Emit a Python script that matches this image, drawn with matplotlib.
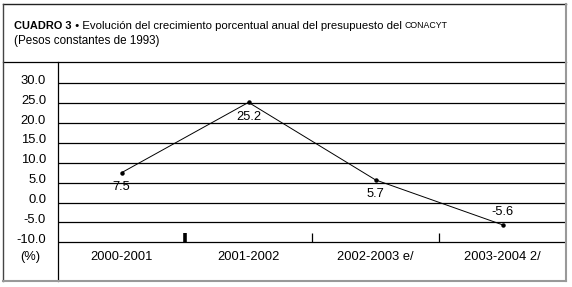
import matplotlib
matplotlib.use("Agg")
import matplotlib.pyplot as plt
from matplotlib.lines import Line2D
from matplotlib.transforms import ScaledTranslation, blended_transform_factory

plt.rcParams['font.family'] = ['Liberation Sans', 'DejaVu Sans']

# ---- data ----
categories = ["2000-2001", "2001-2002", "2002-2003 e/", "2003-2004 2/"]
values = [7.5, 25.2, 5.7, -5.6]
value_labels = ["7.5", "25.2", "5.7", "-5.6"]
yticks = [30.0, 25.0, 20.0, 15.0, 10.0, 5.0, 0.0, -5.0, -10.0]
ytick_labels = ["30.0", "25.0", "20.0", "15.0", "10.0", "5.0", "0.0", "-5.0", "-10.0"]
unit_label = "(%)"
title_bold = "CUADRO 3"
title_main = " \u2022 Evoluci\u00f3n del crecimiento porcentual anual del presupuesto del "
title_small = "CONACYT"
subtitle = "(Pesos constantes de 1993)"

W, H = 572, 287
fig = plt.figure(figsize=(W / 100, H / 100), dpi=100)
fig.patch.set_facecolor("white")

def fx(px):
    return px / W

def fy(py):
    return 1 - py / H

# axes region (table body)
ax = fig.add_axes([fx(58), fy(281), fx(566) - fx(58), fy(62) - fy(281)])
ax.set_xlim(-0.5, len(categories) - 0.5)
ax.set_ylim(-19.74, 35.36)
for s in ax.spines.values():
    s.set_visible(False)
ax.set_facecolor("none")

# horizontal rules at each tick
for t in yticks:
    ax.axhline(t, color="black", lw=0.9, zorder=1)

# ticks at category boundaries
xs = list(range(len(categories)))
bounds = [x + 0.5 for x in xs[:-1]]
ax.vlines(bounds, min(yticks), min(yticks) + 2.3, color="black",
          lw=[2.6, 0.9, 0.9], zorder=2)

# y tick labels
ax.set_yticks(yticks)
ax.set_yticklabels(ytick_labels, fontsize=9.4)
ax.tick_params(axis="y", length=0, pad=8.6)
off = ScaledTranslation(0, 4 / 100, fig.dpi_scale_trans)
for lab in ax.get_yticklabels():
    lab.set_transform(lab.get_transform() + off)
ax.set_xticks([])

# category labels
tr = blended_transform_factory(ax.transData, ax.transAxes)
for x, c in zip(xs, categories):
    ax.text(x, 0.1095, c, transform=tr, ha="center", va="center", fontsize=9.3)
fig.text(fx(30), fy(257), unit_label, ha="center", va="center", fontsize=9.3)

# line
ax.plot(xs, values, color="black", lw=0.7, marker="o", markersize=2.2, zorder=3)
for x, v, lab in zip(xs, values, value_labels):
    dy = -10.5 if v > 0 else 9.5
    ax.annotate(lab, (x, v), xytext=(0, dy), textcoords="offset points",
                ha="center", va="center", fontsize=9.3)

# table lines
fig.add_artist(Line2D([fx(3), fx(566)], [fy(62), fy(62)], color="black", lw=0.9))
fig.add_artist(Line2D([fx(58), fx(58)], [fy(62), fy(281)], color="black", lw=0.9))
# outer frame
fig.add_artist(Line2D([fx(3), fx(566)], [fy(4), fy(4)], color="#222222", lw=1.0))
fig.add_artist(Line2D([fx(3), fx(3)], [fy(4), fy(281)], color="#444444", lw=1.0))
fig.add_artist(Line2D([fx(566), fx(566)], [fy(4), fy(281)], color="#999999", lw=1.5))
fig.add_artist(Line2D([fx(3), fx(566)], [fy(281), fy(281)], color="#999999", lw=1.5))

# title
renderer = fig.canvas.get_renderer()
t1 = fig.text(fx(14), fy(26), title_bold, fontsize=7.9, fontweight="bold",
              ha="left", va="center")
bb = t1.get_window_extent(renderer)
t2 = fig.text(bb.x1 / W, fy(26), title_main, fontsize=8.2, ha="left", va="center")
bb2 = t2.get_window_extent(renderer)
fig.text(bb2.x1 / W, fy(26), title_small, fontsize=6.3, ha="left", va="center")
fig.text(fx(14), fy(40.5), subtitle, fontsize=8.4, ha="left", va="center")

fig.savefig("out.png", dpi=100, facecolor="white")
